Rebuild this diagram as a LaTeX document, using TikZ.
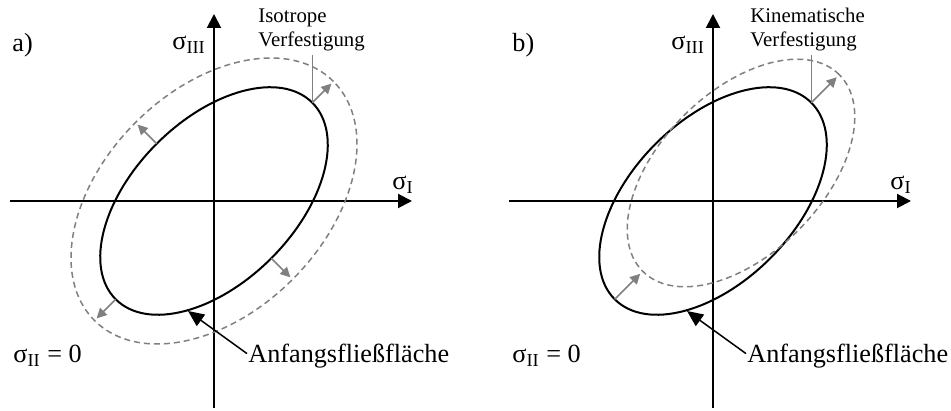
\documentclass[tikz,border=0pt]{standalone}
\usepackage{fontspec}
\setmainfont{Liberation Serif}
\usetikzlibrary{arrows.meta,calc}
\definecolor{hgray}{RGB}{128,128,128}
\tikzset{
  axis/.style={line width=1pt,-{Triangle[length=7pt,width=7pt]}},
  yieldsurf/.style={line width=1pt},
  newsurf/.style={hgray,line width=0.75pt,dash pattern=on 3pt off 2pt},
  growarrow/.style={hgray,line width=0.75pt,-{Triangle[length=5pt,width=5pt]}},
  leader/.style={hgray,line width=0.75pt},
  labelarrow/.style={line width=0.75pt,-{Triangle[length=8pt,width=7pt]}},
  big/.style={font=\fontsize{13.1}{15.5}\selectfont,inner sep=0pt,anchor=base west},
  small/.style={font=\fontsize{10.4}{12}\selectfont,inner sep=0pt,anchor=base west},
}
\begin{document}
\begin{tikzpicture}[x=0.5pt,y=0.5pt]
\useasboundingbox (0,0) rectangle (951,411);
% ---------------- panel a ----------------
\coordinate (Oa) at (214,210);
\coordinate (vA0) at (214,3);
\coordinate (vA1) at (214,397);
\coordinate (hA0) at (10,210);
\coordinate (hA1) at (412,210);
\draw[axis] (vA0) -- (vA1);
\draw[axis] (hA0) -- (hA1);
\draw[yieldsurf,rotate around={45:(Oa)}] (Oa) ellipse [x radius=139,y radius=81];
\draw[newsurf,rotate around={45:(Oa)}] (Oa) ellipse [x radius=169,y radius=111];
\coordinate (pA1) at ($(Oa)+(45:139)$);
\coordinate (qA1) at ($(Oa)+(45:166)$);
\coordinate (pA2) at ($(Oa)+(135:81)$);
\coordinate (qA2) at ($(Oa)+(135:108)$);
\coordinate (pA3) at ($(Oa)+(-45:81)$);
\coordinate (qA3) at ($(Oa)+(-45:108)$);
\coordinate (pA4) at ($(Oa)+(225:139)$);
\coordinate (qA4) at ($(Oa)+(225:166)$);
\draw[growarrow] (pA1) -- (qA1);
\draw[growarrow] (pA2) -- (qA2);
\draw[growarrow] (pA3) -- (qA3);
\draw[growarrow] (pA4) -- (qA4);
\coordinate (lA) at (0,356);
\draw[leader] (pA1 |- lA) -- (pA1);
\node[small] (isoA1) at (258,388) {Isotrope};
\node[small] (isoA2) at (258,364) {Verfestigung};
\node[big] (labA) at (12,359) {a)};
\node[big] (s3A) at (172,361) {σ\textsubscript{III}};
\node[big] (s1A) at (392,221) {σ\textsubscript{I}};
\node[big] (s2A) at (13,48) {σ\textsubscript{II} = 0};
\node[big] (ancA) at (248,48) {Anfangsfließfläche};
\coordinate (tipA) at (188,100);
\draw[labelarrow] ([shift={(-1,1.5pt)}]ancA.west) -- (tipA);
% ---------------- panel b ----------------
\coordinate (Ob) at (713,210);
\coordinate (Kb) at (741,238);
\coordinate (vB0) at (713,3);
\coordinate (vB1) at (713,397);
\coordinate (hB0) at (509,210);
\coordinate (hB1) at (911,210);
\draw[axis] (vB0) -- (vB1);
\draw[axis] (hB0) -- (hB1);
\draw[yieldsurf,rotate around={45:(Ob)}] (Ob) ellipse [x radius=139,y radius=81];
\draw[newsurf,rotate around={45:(Kb)}] (Kb) ellipse [x radius=139,y radius=81];
\coordinate (pB1) at ($(Ob)+(45:139)$);
\coordinate (qB1) at ($(Ob)+(45:175)$);
\coordinate (pB4) at ($(Ob)+(225:139)$);
\coordinate (qB4) at ($(Ob)+(225:103)$);
\draw[growarrow] (pB1) -- (qB1);
\draw[growarrow] (pB4) -- (qB4);
\coordinate (lB) at (0,356);
\draw[leader] (pB1 |- lB) -- (pB1);
\node[small] (kinB1) at (750,388) {Kinematische};
\node[small] (kinB2) at (750,364) {Verfestigung};
\node[big] (labB) at (512,359) {b)};
\node[big] (s3B) at (671,361) {σ\textsubscript{III}};
\node[big] (s1B) at (890,221) {σ\textsubscript{I}};
\node[big] (s2B) at (512,48) {σ\textsubscript{II} = 0};
\node[big] (ancB) at (747,48) {Anfangsfließfläche};
\coordinate (tipB) at (687,100);
\draw[labelarrow] ([shift={(-1,1.5pt)}]ancB.west) -- (tipB);
\end{tikzpicture}
\end{document}
